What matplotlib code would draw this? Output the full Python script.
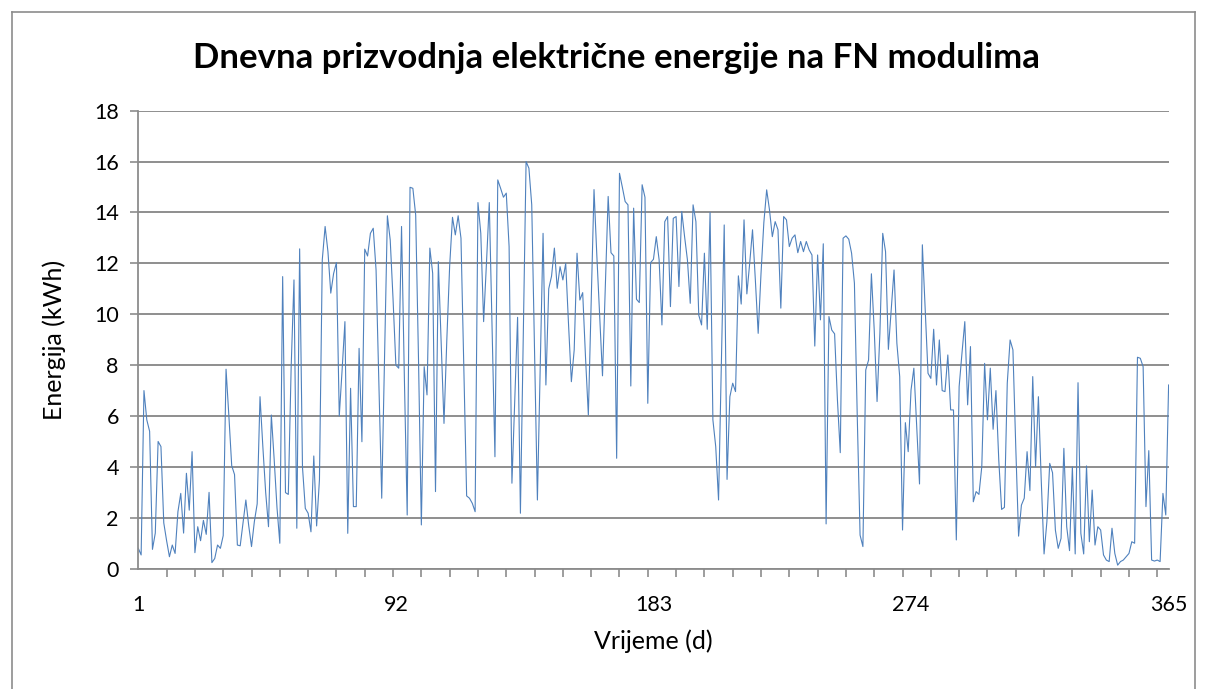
import numpy as np
import matplotlib
matplotlib.use("Agg")
import matplotlib.pyplot as plt
from matplotlib.lines import Line2D

# daily energy, day 1..365 (kWh)
energy = [
    0.8, 0.54, 7.0, 5.85, 5.4, 0.76, 1.4, 5.0, 4.8, 1.8,
    1.1, 0.47, 0.93, 0.6, 2.24, 2.96, 1.4, 3.75, 2.3, 4.6,
    0.63, 1.65, 1.1, 1.9, 1.35, 3.0, 0.24, 0.4, 0.93, 0.8,
    1.3, 7.84, 6.0, 4.05, 3.7, 0.93, 0.9, 1.8, 2.7, 1.7,
    0.87, 1.85, 2.55, 6.76, 4.8, 3.0, 1.65, 6.04, 4.3, 2.4,
    1.0, 11.48, 2.99, 2.92, 7.9, 11.35, 1.59, 12.57, 4.0, 2.37,
    2.18, 1.45, 4.43, 1.68, 3.5, 12.14, 13.45, 12.46, 10.83, 11.6,
    12.03, 6.0, 7.8, 9.71, 1.39, 7.09, 2.44, 2.44, 8.66, 4.99,
    12.56, 12.29, 13.18, 13.38, 11.74, 7.3, 2.77, 8.3, 13.87, 12.92,
    10.6, 8.0, 7.88, 13.45, 7.5, 2.11, 14.99, 14.95, 13.9, 8.2,
    1.72, 7.94, 6.83, 12.6, 11.61, 3.03, 12.07, 8.86, 5.71, 9.0,
    11.9, 13.81, 13.12, 13.87, 12.99, 7.94, 2.86, 2.77, 2.57, 2.24,
    14.39, 13.18, 9.71, 12.0, 14.39, 9.4, 4.4, 15.28, 14.95, 14.6,
    14.76, 12.66, 3.36, 6.6, 9.88, 2.18, 9.1, 16.0, 15.74, 14.3,
    8.5, 2.7, 7.9, 13.18, 7.22, 11.0, 11.5, 12.6, 11.02, 11.87,
    11.35, 12.0, 9.6, 7.35, 8.6, 12.4, 10.56, 10.85, 8.3, 6.04,
    10.5, 14.9, 12.3, 9.9, 7.58, 11.1, 14.63, 12.42, 12.29, 4.34,
    15.54, 15.0, 14.43, 14.3, 7.18, 14.17, 10.59, 10.46, 15.09, 14.6,
    6.5, 12.03, 12.16, 13.05, 12.14, 9.58, 13.64, 13.84, 10.3, 13.77,
    13.84, 11.09, 14.04, 13.05, 12.14, 10.43, 14.3, 13.64, 9.97, 9.58,
    12.4, 9.41, 14.0, 5.85, 4.8, 2.7, 8.07, 13.51, 3.51, 6.76,
    7.29, 6.96, 11.51, 10.4, 13.71, 10.8, 12.0, 13.32, 11.35, 9.25,
    11.6, 13.6, 14.89, 14.1, 13.05, 13.64, 13.32, 10.24, 13.84, 13.71,
    12.66, 12.99, 13.12, 12.42, 12.86, 12.46, 12.86, 12.53, 12.33, 8.75,
    12.33, 9.78, 12.77, 1.76, 9.91, 9.38, 9.23, 6.63, 4.56, 12.99,
    13.08, 12.95, 12.4, 11.22, 6.0, 1.32, 0.87, 7.81, 8.2, 11.59,
    9.38, 6.57, 9.25, 13.18, 12.46, 8.62, 10.2, 11.74, 8.86, 7.55,
    1.52, 5.74, 4.6, 7.02, 7.88, 5.58, 3.33, 12.73, 10.24, 7.68,
    7.48, 9.41, 7.22, 8.99, 7.0, 6.96, 8.4, 6.24, 6.24, 1.13,
    7.16, 8.47, 9.71, 6.44, 8.73, 2.63, 3.03, 2.92, 4.01, 8.07,
    5.85, 7.88, 5.48, 7.0, 4.27, 2.33, 2.41, 7.29, 8.99, 8.6,
    4.8, 1.28, 2.5, 2.77, 4.6, 3.07, 7.55, 4.01, 6.76, 3.49,
    0.58, 1.85, 4.14, 3.77, 1.52, 0.8, 1.19, 4.73, 1.65, 0.71,
    4.0, 0.58, 7.31, 1.39, 0.58, 4.04, 1.06, 3.09, 0.93, 1.65,
    1.52, 0.54, 0.34, 0.28, 1.59, 0.6, 0.14, 0.28, 0.34, 0.47,
    0.6, 1.06, 1.0, 8.31, 8.27, 7.94, 2.44, 4.64, 0.34, 0.3,
    0.34, 0.28, 2.96, 2.11, 7.22,
]
days = np.arange(1, len(energy) + 1)

x_labels = [1, 92, 183, 274, 365]
y_ticks = [0, 2, 4, 6, 8, 10, 12, 14, 16, 18]

plt.rcParams['font.family'] = ['Lato', 'DejaVu Sans']

W, H = 1206, 689
fig = plt.figure(figsize=(W / 100, H / 100), dpi=100)

# chart area border (open at the bottom, like the cropped screenshot)
gray = '#8c8c8c'
fig.add_artist(Line2D([12 / W, 12 / W], [0, 1 - 12 / H], color=gray, lw=1.2))
fig.add_artist(Line2D([12 / W, 1195 / W], [1 - 12 / H, 1 - 12 / H], color=gray, lw=1.2))
fig.add_artist(Line2D([1195 / W, 1195 / W], [0, 1 - 12 / H], color=gray, lw=1.2))

left, right = 138.3 / W, 1168.6 / W
bottom, top = 1 - 568.7 / H, 1 - 110.7 / H
ax = fig.add_axes([left, bottom, right - left, top - bottom])

ax.plot(days, energy, color='#4f81bd', lw=0.8)

ax.set_xlim(1, 365)
ax.set_ylim(0, 18)
ax.set_yticks(y_ticks)
ax.yaxis.grid(True, color='#868686', lw=1.3)
ax.set_axisbelow(True)

ax.set_xticks(x_labels)
ax.set_xticks(list(range(1, 366, 10)) + [365], minor=True)
ax.tick_params(axis='x', which='major', length=0, pad=19, labelsize=15.5)
ax.tick_params(axis='x', which='minor', length=6, width=1.2, color=gray, direction='out')
ax.tick_params(axis='y', length=6, width=1.2, color=gray, pad=8, labelsize=15.5)

for s in ['top', 'right']:
    ax.spines[s].set_visible(False)
for s in ['left', 'bottom']:
    ax.spines[s].set_color(gray)
    ax.spines[s].set_linewidth(1.3)

ax.set_xlabel('Vrijeme (d)', fontsize=18, labelpad=10)
ax.set_ylabel('Energija (kWh)', fontsize=18, labelpad=20)

fig.text(616 / W, 1 - 58 / H, 'Dnevna prizvodnja električne energije na FN modulima',
         ha='center', va='center', fontsize=25, fontweight='bold')

fig.savefig('out.png', dpi=100)
